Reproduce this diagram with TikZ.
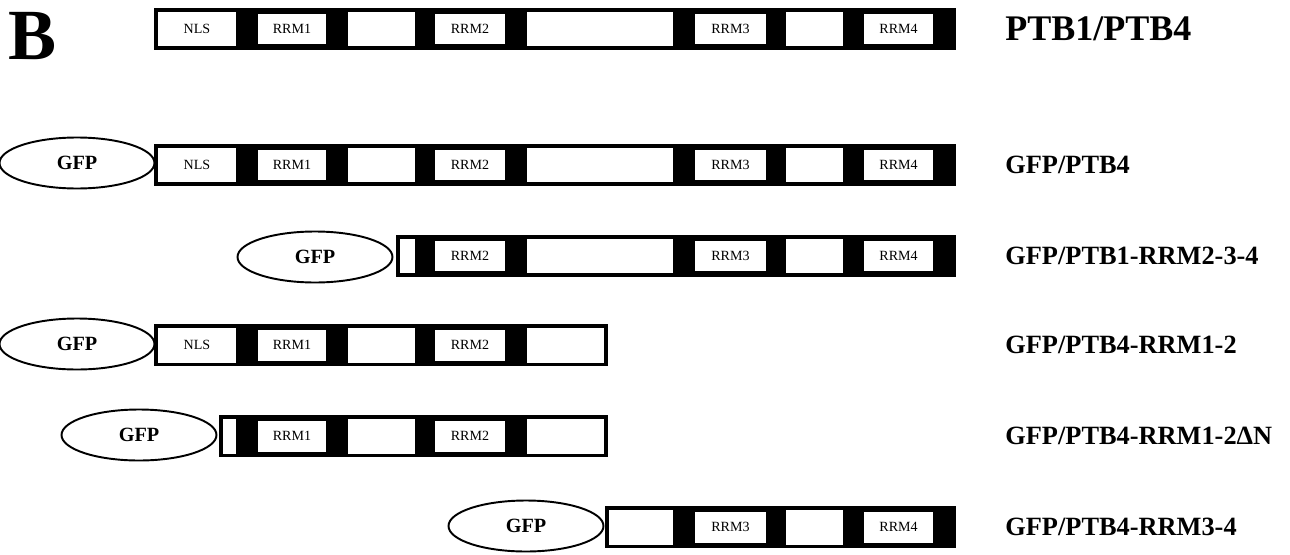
\documentclass[tikz,border=0pt]{standalone}
\usepackage{fontspec}
\setmainfont{Liberation Serif}
\usetikzlibrary{shapes.geometric}
\tikzset{
  bar/.style = {draw, fill = black, line width = 0.6pt, inner sep = 0pt, minimum height = 0.8cm},
  dom/.style = {fill = white, inner sep = 0pt, minimum height = 0.62cm, font = \fontsize{8}{8}\selectfont},
  gap/.style = {fill = white, inner sep = 0pt, minimum height = 0.7cm},
  gfp/.style = {draw, shape = ellipse, line width = 1.1pt, inner sep = 0pt, minimum width = 3.1cm, minimum height = 1.02cm, font = \bfseries\fontsize{11.5}{11.5}\selectfont},
  lab/.style = {anchor = west, inner sep = 0pt, font = \bfseries\fontsize{15}{15}\selectfont},
  wd/.style = {minimum width = #1*0.02cm}
}
\begin{document}
\begin{tikzpicture}[x = 0.02cm, y = -0.02cm]
\useasboundingbox (0,0) rectangle (1290,554);
\node at (33,36) [inner sep = 0pt, font = \bfseries\fontsize{41}{41}\selectfont](B){B};
% PTB1/PTB4
\node at (555,29) [bar, wd = 800](bar1){};
\node at (197,29) [gap, wd = 78](d1a){\fontsize{8}{8}\selectfont NLS};
\node at (292,29) [dom, wd = 68](d1b){RRM1};
\node at (381.5,29) [gap, wd = 67](d1c){};
\node at (470,29) [dom, wd = 70](d1d){RRM2};
\node at (600,29) [gap, wd = 146](d1e){};
\node at (730.5,29) [dom, wd = 71](d1f){RRM3};
\node at (814.5,29) [gap, wd = 57](d1g){};
\node at (898.5,29) [dom, wd = 69](d1h){RRM4};
\node at (1005,29) [lab, font = \bfseries\fontsize{20.5}{20.5}\selectfont](lab1){PTB1/PTB4};
% GFP/PTB4
\node at (77,163) [gfp](gfp2){GFP};
\node at (555,165) [bar, wd = 800](bar2){};
\node at (197,165) [gap, wd = 78](d2a){\fontsize{8}{8}\selectfont NLS};
\node at (292,165) [dom, wd = 68](d2b){RRM1};
\node at (381.5,165) [gap, wd = 67](d2c){};
\node at (470,165) [dom, wd = 70](d2d){RRM2};
\node at (600,165) [gap, wd = 146](d2e){};
\node at (730.5,165) [dom, wd = 71](d2f){RRM3};
\node at (814.5,165) [gap, wd = 57](d2g){};
\node at (898.5,165) [dom, wd = 69](d2h){RRM4};
\node at (1005,165) [lab](lab2){GFP/PTB4};
% GFP/PTB1-RRM2-3-4
\node at (315,257) [gfp](gfp3){GFP};
\node at (676,256) [bar, wd = 558](bar3){};
\node at (407.5,256) [gap, wd = 15](d3a){};
\node at (470,256) [dom, wd = 70](d3b){RRM2};
\node at (600,256) [gap, wd = 146](d3c){};
\node at (730.5,256) [dom, wd = 71](d3d){RRM3};
\node at (814.5,256) [gap, wd = 57](d3e){};
\node at (898.5,256) [dom, wd = 69](d3f){RRM4};
\node at (1005,256) [lab](lab3){GFP/PTB1-RRM2-3-4};
% GFP/PTB4-RRM1-2
\node at (77,344) [gfp](gfp4){GFP};
\node at (381,345) [bar, wd = 452](bar4){};
\node at (197,345) [gap, wd = 78](d4a){\fontsize{8}{8}\selectfont NLS};
\node at (292,345) [dom, wd = 68](d4b){RRM1};
\node at (381.5,345) [gap, wd = 67](d4c){};
\node at (470,345) [dom, wd = 70](d4d){RRM2};
\node at (565.5,345) [gap, wd = 77](d4e){};
\node at (1005,345) [lab](lab4){GFP/PTB4-RRM1-2};
% GFP/PTB4-RRM1-2dN
\node at (139,435) [gfp](gfp5){GFP};
\node at (413.5,436) [bar, wd = 387](bar5){};
\node at (229.5,436) [gap, wd = 13](d5a){};
\node at (292,436) [dom, wd = 68](d5b){RRM1};
\node at (381.5,436) [gap, wd = 67](d5c){};
\node at (470,436) [dom, wd = 70](d5d){RRM2};
\node at (565.5,436) [gap, wd = 77](d5e){};
\node at (1005,436) [lab](lab5){GFP/PTB4-RRM1-2ΔN};
% GFP/PTB4-RRM3-4
\node at (526,526) [gfp](gfp6){GFP};
\node at (780.5,527) [bar, wd = 349](bar6){};
\node at (641,527) [gap, wd = 64](d6a){};
\node at (730.5,527) [dom, wd = 71](d6b){RRM3};
\node at (814.5,527) [gap, wd = 57](d6c){};
\node at (898.5,527) [dom, wd = 69](d6d){RRM4};
\node at (1005,527) [lab](lab6){GFP/PTB4-RRM3-4};
\end{tikzpicture}
\end{document}
